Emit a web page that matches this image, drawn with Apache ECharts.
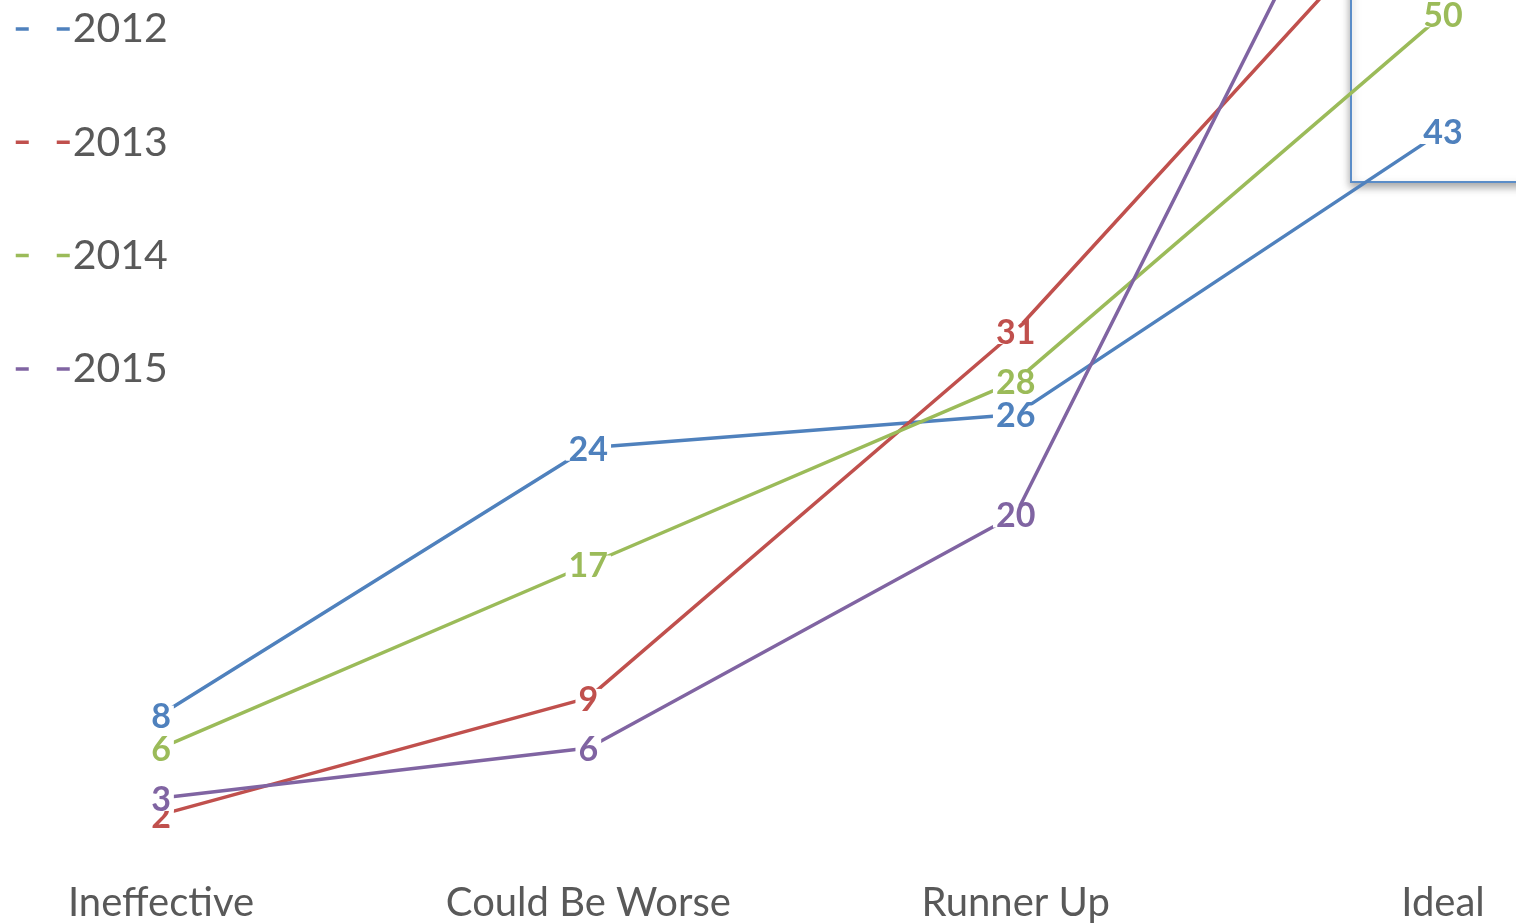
<!DOCTYPE html>
<html>
<head>
<meta charset="utf-8">
<title>Ratings by year</title>
<script src="https://cdn.jsdelivr.net/npm/echarts@6/dist/echarts.min.js"></script>
<style>
  html, body { margin: 0; padding: 0; background: #fff; }
  #chart { width: 1516px; height: 923px; }
</style>
</head>
<body>
<div id="chart"></div>
<script>
// Rating categories along the x axis
const categories = ['Ineffective', 'Could Be Worse', 'Runner Up', 'Ideal'];

// Counts per rating, one array per year
const years = ['2012', '2013', '2014', '2015'];
const values2012 = [8, 24, 26, 43];
const values2013 = [2, 9, 31, 59];
const values2014 = [6, 17, 28, 50];
const values2015 = [3, 6, 20, 71];

const seriesValues = [values2012, values2013, values2014, values2015];
const lineColors = ['#4F81BD', '#C0504D', '#9BBB59', '#8064A2'];

const FONT = 'Lato, "Open Sans", "Noto Sans", sans-serif';

const chart = echarts.init(document.getElementById('chart'), null, { renderer: 'canvas' });

const series = years.map((name, i) => ({
  name: name,
  type: 'line',
  data: seriesValues[i],
  smooth: false,
  symbol: 'circle',
  symbolSize: 2,
  clip: false,
  z: 3 + i,
  lineStyle: { color: lineColors[i], width: 3.5 },
  itemStyle: { color: lineColors[i] },
  label: {
    show: true,
    position: 'inside',
    offset: [0, 2],
    color: lineColors[i],
    fontFamily: FONT,
    fontWeight: 'bold',
    fontSize: 34,
    backgroundColor: '#ffffff',
    padding: [0, 3, 0, 3],
    lineHeight: 22
  },
  emphasis: { disabled: true }
}));

chart.setOption({
  animation: false,
  backgroundColor: '#ffffff',
  legend: {
    orient: 'vertical',
    left: 14,
    top: 5,
    padding: 0,
    itemWidth: 54,
    itemHeight: 14,
    itemGap: 65.3,
    data: years,
    itemStyle: { opacity: 0 },
    lineStyle: { type: [13, 28], width: 3.5 },
    textStyle: {
      fontFamily: FONT,
      fontSize: 41,
      color: '#595959',
      lineHeight: 48,
      padding: [0, 0, 0, -2]
    }
  },
  grid: {
    left: 161,
    right: 73,
    top: 0,
    bottom: 73,
    containLabel: false
  },
  xAxis: {
    type: 'category',
    data: categories,
    boundaryGap: false,
    axisLine: { show: false },
    axisTick: { show: false },
    splitLine: { show: false },
    axisLabel: {
      margin: 35,
      fontFamily: FONT,
      fontSize: 40,
      color: '#595959'
    }
  },
  yAxis: {
    type: 'value',
    min: 0,
    max: 50.85,
    show: false,
    splitLine: { show: false }
  },
  graphic: [{
    type: 'rect',
    z: 0,
    shape: { x: 1351, y: -20, width: 200, height: 202 },
    style: {
      fill: '#ffffff',
      stroke: '#5B8DC8',
      lineWidth: 2,
      shadowBlur: 8,
      shadowOffsetY: 4,
      shadowColor: 'rgba(0,0,0,0.35)'
    }
  }],
  series: series
});
</script>
</body>
</html>
